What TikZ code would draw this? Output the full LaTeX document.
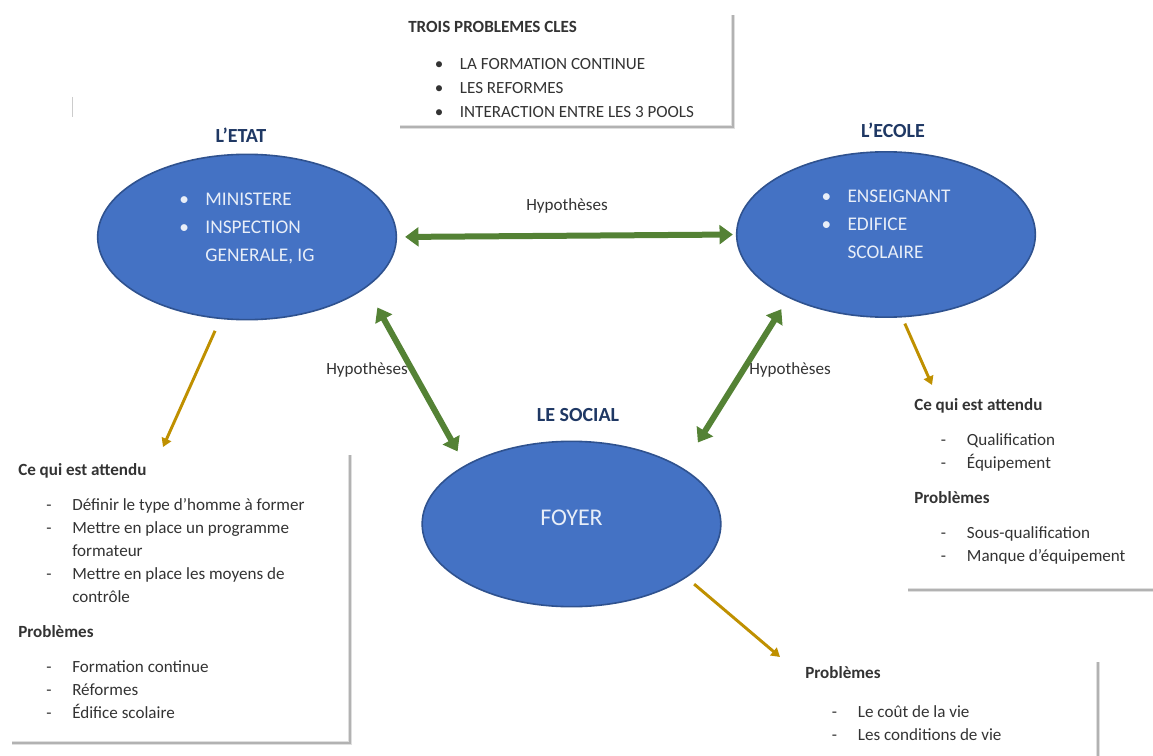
\documentclass[tikz,border=0pt]{standalone}
\usepackage{fontspec}
\setmainfont{Carlito}
\usepackage{xcolor}
\usepackage{tikz}
\usetikzlibrary{arrows.meta, positioning, shapes.geometric}

\definecolor{bleupool}{RGB}{68,114,196}
\definecolor{bleubord}{RGB}{47,82,143}
\definecolor{bleutitre}{RGB}{31,56,100}
\definecolor{vertfleche}{RGB}{84,130,53}
\definecolor{orfleche}{RGB}{191,144,0}
\definecolor{texteclair}{RGB}{232,238,248}

\newcommand{\corps}{\fontsize{12.8}{17.25}\selectfont}

\begin{document}
\begin{tikzpicture}[x=0.75pt, y=-0.75pt,
    pool/.style={ellipse, fill=bleupool, draw=bleubord, line width=1.2pt, minimum width=224pt, minimum height=124pt, inner sep=0pt, text=texteclair, font=\fontsize{14.5}{21}\selectfont},
    titre/.style={font=\fontsize{15}{18}\selectfont\bfseries, text=bleutitre},
    bloc/.style={anchor=base west, inner sep=0pt, font=\corps, text=black!80},
    etiq/.style={inner sep=0pt, font=\corps, text=black!80},
    hyp/.style={draw=vertfleche, line width=4.5pt, {Triangle[length=10pt,width=14pt]}-{Triangle[length=10pt,width=14pt]}},
    attendu/.style={draw=orfleche, line width=2.2pt, -{Triangle[length=6.5pt,width=7.5pt]}},
    ombre/.style={draw=gray!60, line width=1.6pt, preaction={draw=gray!25, line width=3.5pt}}]
  \useasboundingbox (0,0) rectangle (1153,756);

  % les trois pools
  \node[titre] (titreetat) at (241,135) {L’ETAT};
  \node[titre] (titreecole) at (893,130) {L’ECOLE};
  \node[titre] (titresocial) at (578,415) {LE SOCIAL};

  \node[pool] (etat) at (247,237) {\raisebox{7pt}[\height][\depth]{\begin{tabular}{@{}p{19.5pt}@{}l@{}}
    \textbullet & MINISTERE\\
    \textbullet & INSPECTION\\
    & GENERALE, IG
  \end{tabular}}};
  \node[pool] (ecole) at (886,234.5) {\raisebox{7pt}[\height][\depth]{\begin{tabular}{@{}p{19.5pt}@{}l@{}}
    \textbullet & ENSEIGNANT\\
    \textbullet & EDIFICE\\
    & SCOLAIRE
  \end{tabular}}};
  \node[pool, font=\fontsize{18}{21}\selectfont] (social) at (571.5,524) {\raisebox{4.5pt}[\height][\depth]{FOYER}};

  % les fleches vertes
  \draw[hyp, shorten <=6pt, shorten >=2.25pt] (etat.east) -- (ecole.west);
  \draw[hyp, shorten <=17pt, shorten >=11.7pt] (etat.-23) -- (social.151);
  \draw[hyp, shorten <=22.2pt, shorten >=10pt] (social.27) -- (ecole.-147);
  \node[etiq] (hyphaut) at (567,206) {Hypothèses};
  \node[etiq] (hypgauche) at (367,370) {Hypothèses};
  \node[etiq] (hypdroite) at (790,370) {Hypothèses};

  % les encadres
  \draw[ombre] (400,127) -- (733,127) -- (733,15);
  \node[bloc] (clestxt) at (408,33) {\begin{tabular}[t]{@{\hspace{20pt}}p{18.75pt}@{}l@{}}
    \multicolumn{2}{@{}l@{}}{\textbf{TROIS PROBLEMES CLES}}\\[10.5pt]
    \textbullet & LA FORMATION CONTINUE\\[0.75pt]
    \textbullet & LES REFORMES\\[0.75pt]
    \textbullet & INTERACTION ENTRE LES 3 POOLS
  \end{tabular}};

  \draw[ombre] (12,743) -- (350,743) -- (350,455);
  \node[bloc] (etattxt) at (18,475) {\begin{tabular}[t]{@{\hspace{21pt}}p{19.5pt}@{}l@{}}
    \multicolumn{2}{@{}l@{}}{\textbf{Ce qui est attendu}}\\[9pt]
    - & Définir le type d’homme à former\\
    - & Mettre en place un programme\\
      & formateur\\
    - & Mettre en place les moyens de\\
      & contrôle\\[9.5pt]
    \multicolumn{2}{@{}l@{}}{\textbf{Problèmes}}\\[9pt]
    - & Formation continue\\
    - & Réformes\\
    - & Édifice scolaire
  \end{tabular}};

  \draw[ombre] (908,590) -- (1153,590);
  \node[bloc] (ecoletxt) at (914,410) {\begin{tabular}[t]{@{\hspace{20pt}}p{19.5pt}@{}l@{}}
    \multicolumn{2}{@{}l@{}}{\textbf{Ce qui est attendu}}\\[9pt]
    - & Qualification\\
    - & Équipement\\[9.5pt]
    \multicolumn{2}{@{}l@{}}{\textbf{Problèmes}}\\[9pt]
    - & Sous-qualification\\
    - & Manque d’équipement
  \end{tabular}};

  \draw[ombre] (1098,662) -- (1098,756);
  \node[bloc] (socialtxt) at (805,678) {\begin{tabular}[t]{@{\hspace{20pt}}p{19.5pt}@{}l@{}}
    \multicolumn{2}{@{}l@{}}{\textbf{Problèmes}}\\[12pt]
    - & Le coût de la vie\\
    - & Les conditions de vie
  \end{tabular}};

  % les fleches jaunes
  \coordinate (etatcible) at (163,447);
  \coordinate (ecolecible) at (932,385);
  \coordinate (socialcible) at (780,657);
  \draw[attendu, shorten <=9.6pt] (etat.252) -- (etatcible);
  \draw[attendu, shorten <=5pt] (ecole.-79) -- (ecolecible);
  \draw[attendu, shorten <=7.5pt] (social.-25) -- (socialcible);

  \draw[gray!40, line width=0.6pt] (72,97) -- (72,117);
\end{tikzpicture}
\end{document}
